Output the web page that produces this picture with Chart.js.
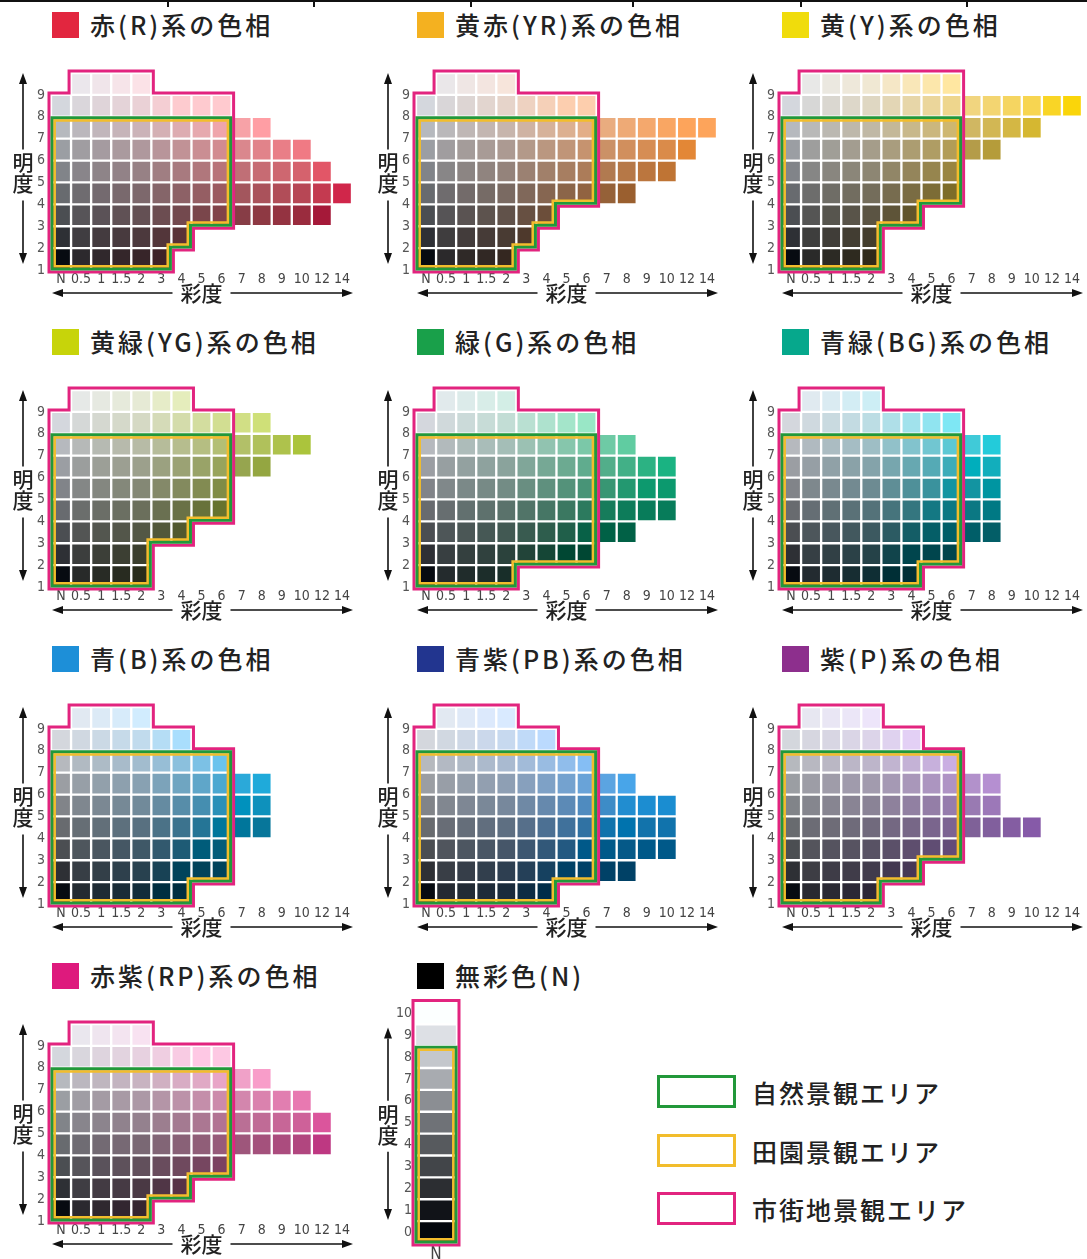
<!DOCTYPE html>
<html lang="ja">
<head>
<meta charset="utf-8">
<title>色相別 明度・彩度</title>
<script src="https://cdn.jsdelivr.net/npm/chart.js@4.4.1/dist/chart.umd.min.js"></script>
<style>
  html, body { margin: 0; padding: 0; background: #fff; }
  #page { position: relative; width: 1087px; height: 1259px; overflow: hidden; font-family: "Noto Sans CJK JP", "Noto Sans", sans-serif; color: #222; }
  .abs { position: absolute; }
  .title { position: absolute; font-size: 25px; font-weight: 500; letter-spacing: 3px; line-height: 30px; white-space: nowrap; }
  .mark { position: absolute; width: 27px; height: 26px; }
  .lg-box { position: absolute; width: 73px; height: 27px; border: 3px solid; background: #fff; }
  .lg-text { position: absolute; font-size: 25px; font-weight: 500; letter-spacing: 2px; line-height: 32px; white-space: nowrap; }
  canvas { position: absolute; }
</style>
</head>
<body>
<div id="page"></div>
<script>
// ---- data ----
const chromaLabels = ['N', '0.5', '1', '1.5', '2', '3', '4', '5', '6', '7', '8', '9', '10', '12', '14'];
const chromaSteps = [0, 0.5, 1, 1.5, 2, 3, 4, 5, 6, 7, 8, 9, 10, 12, 14];
const valueTicks = [1, 2, 3, 4, 5, 6, 7, 8, 9];
const rowBottoms = [1, 2, 3, 4, 5, 6, 7, 8, 9];      // row spans [v, v+1]
const topRowFirstCol = 1;                            // top row starts at 0.5

const hueTitles = ['赤(R)系の色相', '黄赤(YR)系の色相', '黄(Y)系の色相',
                   '黄緑(YG)系の色相', '緑(G)系の色相', '青緑(BG)系の色相',
                   '青(B)系の色相', '青紫(PB)系の色相', '紫(P)系の色相',
                   '赤紫(RP)系の色相'];

// last chroma column present in each row (index into chromaLabels), bottom row first
const lastColR  = [5, 6, 13, 14, 13, 12, 10, 8, 4];
const lastColYR = [4, 5, 6, 10, 12, 13, 14, 8, 4];
const lastColY  = [4, 4, 6, 8, 8, 10, 12, 14, 8];
const lastColYG = [4, 4, 6, 8, 8, 10, 12, 10, 6];
const lastColG  = [4, 8, 10, 12, 12, 12, 10, 8, 4];
const lastColBG = [6, 8, 10, 10, 10, 10, 10, 8, 4];
const lastColB  = [6, 8, 8, 10, 10, 10, 8, 6, 4];
const lastColPB = [6, 10, 12, 12, 12, 10, 8, 6, 4];
const lastColP  = [4, 6, 8, 12, 10, 10, 8, 6, 4];
const lastColRP = [4, 6, 8, 13, 13, 12, 10, 8, 4];
const hueLastCols = [lastColR, lastColYR, lastColY, lastColYG, lastColG,
                     lastColBG, lastColB, lastColPB, lastColP, lastColRP];

// landscape areas: chroma up to column 8 (=6); natural/rural up to value 8, urban up to 10
const areaLastCol = 8;
const naturalTopValue = 8;
const ruralTopValue = 8;
const urbanTopValue = 10;

const neutralTitle = '無彩色(N)';
const neutralValues = [0, 1, 2, 3, 4, 5, 6, 7, 8, 9, 10];
const neutralNaturalTop = 8;
const neutralUrbanTop = 10;

const valueAxisTitle = '明度';
const chromaAxisTitle = '彩度';
const legendLabels = ['自然景観エリア', '田園景観エリア', '市街地景観エリア'];

// ---- styles ----
const hueAngles = [22, 64, 92, 112, 160, 205, 240, 262, 316, 352];
const chromaGain = [5, 5.5, 7, 7, 5.5, 5, 5, 5, 4.6, 5];
const markColors = ['#e2263f', '#f4b120', '#f0dc0c', '#c7d40a', '#19a04a',
                    '#06a88c', '#1d8fd8', '#22358f', '#8d2f8d', '#de1a7d'];
const rowLightness = [17, 26, 36, 46, 56, 65, 75, 86, 92];
const neutralColLightness = [3, 20, 33, 45, 55, 65, 75, 86, 92];
const neutralLightness = [2, 6, 19, 29, 38, 48, 59, 70, 80, 89, 100];
const outlineStyles = {
  urban:   { color: '#e2247f', width: 3, inset: -2 },
  natural: { color: '#22983a', width: 3, inset: 1 },
  rural:   { color: '#f2bd2c', width: 2.5, inset: 3.7 }
};
const tickFont = { family: "'Liberation Sans Narrow', 'DejaVu Sans Condensed', sans-serif", size: 14 };
const cjk = '"Noto Sans CJK JP", sans-serif';

// ---- colour helper (CIE LCh -> sRGB) ----
function lchColor(L, C, h) {
  const conv = (c) => {
    const a = c * Math.cos(h * Math.PI / 180), b = c * Math.sin(h * Math.PI / 180) - 3;
    const fy = (L + 16) / 116, fx = fy + a / 500, fz = fy - b / 200;
    const finv = t => t > 6 / 29 ? t * t * t : 3 * (6 / 29) * (6 / 29) * (t - 4 / 29);
    const X = 0.95047 * finv(fx), Y = finv(fy), Z = 1.08883 * finv(fz);
    return [3.2406 * X - 1.5372 * Y - 0.4986 * Z,
            -0.9689 * X + 1.8758 * Y + 0.0415 * Z,
            0.0557 * X - 0.2040 * Y + 1.0570 * Z];
  };
  let c = C, rgb = conv(c);
  while (c > 0 && rgb.some(v => v < -0.002 || v > 1.002)) { c *= 0.95; rgb = conv(c); }
  const g = v => { v = Math.max(0, Math.min(1, v)); return Math.round(255 * (v <= 0.0031308 ? 12.92 * v : 1.055 * Math.pow(v, 1 / 2.4) - 0.055)); };
  return 'rgb(' + rgb.map(g).join(',') + ')';
}

// ---- outline helpers ----
function simplify(pts) {
  let out = pts.filter((p, i) => { const q = pts[(i + 1) % pts.length]; return !(p[0] === q[0] && p[1] === q[1]); });
  let changed = true;
  while (changed) {
    changed = false;
    for (let i = 0; i < out.length; i++) {
      const a = out[(i - 1 + out.length) % out.length], b = out[i], c = out[(i + 1) % out.length];
      if ((b[0] - a[0]) * (c[1] - b[1]) - (b[1] - a[1]) * (c[0] - b[0]) === 0) { out.splice(i, 1); changed = true; break; }
    }
  }
  return out;
}

function rowsToPolygon(rows) {
  const pts = [];
  rows.forEach(r => pts.push([r.xr, r.y0], [r.xr, r.y1]));
  for (let i = rows.length - 1; i >= 0; i--) pts.push([rows[i].xl, rows[i].y1], [rows[i].xl, rows[i].y0]);
  return simplify(pts);
}

function drawOutline(ctx, chart, poly, st) {
  const xs = chart.scales.x, ys = chart.scales.y;
  const P = poly.map(([x, y]) => [xs.getPixelForValue(x), ys.getPixelForValue(y)]);
  let area = 0;
  P.forEach((p, i) => { const q = P[(i + 1) % P.length]; area += p[0] * q[1] - q[0] * p[1]; });
  const s = area > 0 ? 1 : -1;
  const nrm = P.map((p, i) => {
    const q = P[(i + 1) % P.length], dx = q[0] - p[0], dy = q[1] - p[1], len = Math.hypot(dx, dy);
    return [-dy / len * s, dx / len * s];
  });
  const Q = P.map((p, i) => {
    const n1 = nrm[(i - 1 + P.length) % P.length], n2 = nrm[i];
    return [p[0] + st.inset * (n1[0] + n2[0]), p[1] + st.inset * (n1[1] + n2[1])];
  });
  ctx.beginPath();
  Q.forEach((q, i) => i ? ctx.lineTo(q[0], q[1]) : ctx.moveTo(q[0], q[1]));
  ctx.closePath();
  ctx.strokeStyle = st.color;
  ctx.lineWidth = st.width;
  ctx.lineJoin = 'miter';
  ctx.stroke();
}

function arrowLine(ctx, x1, y1, x2, y2) {
  const ang = Math.atan2(y2 - y1, x2 - x1), L = 11, W = 4;
  const bx = x2 - L * Math.cos(ang), by = y2 - L * Math.sin(ang);
  ctx.beginPath(); ctx.moveTo(x1, y1); ctx.lineTo(bx, by); ctx.stroke();
  ctx.beginPath();
  ctx.moveTo(x2, y2);
  ctx.lineTo(bx + W * Math.sin(ang), by - W * Math.cos(ang));
  ctx.lineTo(bx - W * Math.sin(ang), by + W * Math.cos(ang));
  ctx.closePath(); ctx.fill();
}

function makeDecor(outlines, d) {
  return {
    id: 'decor',
    afterDatasetsDraw(chart) {
      const ctx = chart.ctx;
      ctx.save();
      outlines.forEach(o => drawOutline(ctx, chart, o.poly, o.style));
      ctx.restore();
    },
    afterDraw(chart) {
      const ctx = chart.ctx, a = chart.chartArea;
      ctx.save();
      ctx.fillStyle = '#111'; ctx.strokeStyle = '#111'; ctx.lineWidth = 1.6;
      const vx = a.left + d.vx, mid = (a.top + a.bottom) / 2;
      arrowLine(ctx, vx, mid - 22, vx, a.top + d.vTop);
      arrowLine(ctx, vx, mid + 29, vx, a.bottom + d.vBottom);
      ctx.font = '500 21px ' + cjk; ctx.textAlign = 'center'; ctx.textBaseline = 'middle';
      ctx.fillStyle = '#222';
      ctx.fillText(valueAxisTitle[0], vx, mid - 9);
      ctx.fillText(valueAxisTitle[1], vx, mid + 12);
      if (d.hArrow) {
        const hy = a.bottom + 23, cx = (a.left + a.right) / 2;
        ctx.fillStyle = '#111';
        arrowLine(ctx, cx - 29, hy, a.left + 1, hy);
        arrowLine(ctx, cx + 29, hy, a.right + 1, hy);
        ctx.fillStyle = '#222';
        ctx.fillText(chromaAxisTitle, cx, hy);
      }
      ctx.restore();
    }
  };
}

// ---- page ----
const page = document.getElementById('page');
function el(tag, cls, style, text) {
  const e = document.createElement(tag);
  if (cls) e.className = cls;
  Object.assign(e.style, style);
  if (text) e.textContent = text;
  page.appendChild(e);
  return e;
}

// top rule
el('div', 'abs', { left: '0px', top: '0px', width: '1087px', height: '2px', background: '#111' });
[167, 313, 470, 632, 800, 966].forEach(x => el('div', 'abs', { left: x + 'px', top: '0px', width: '2px', height: '7px', background: '#111' }));

function addTitle(col, row, text, color) {
  const ox = col * 365, oy = row * 317;
  el('div', 'mark', { left: (52 + ox) + 'px', top: (12 + oy) + 'px', background: color });
  el('div', 'title', { left: (90 + ox) + 'px', top: (9 + oy) + 'px' }, text);
}

function hueChart(i) {
  const col = i % 3, row = Math.floor(i / 3);
  const lastCols = hueLastCols[i], hue = hueAngles[i], gain = chromaGain[i];
  addTitle(col, row, hueTitles[i], markColors[i]);

  const cv = el('canvas', '', { left: (col * 365) + 'px', top: (row * 317 + 40) + 'px', width: '365px', height: '265px' });
  cv.width = 365; cv.height = 265;

  const datasets = rowBottoms.map((v, r) => {
    const first = r === rowBottoms.length - 1 ? topRowFirstCol : 0;
    return {
      data: chromaLabels.map((_, c) => (c >= first && c <= lastCols[r]) ? [v, v + 1] : null),
      backgroundColor: chromaSteps.map(c => c === 0
        ? lchColor(neutralColLightness[r], 0, hue)
        : lchColor(rowLightness[r], c * gain, hue)),
      borderColor: '#fff', borderWidth: 1.5, borderSkipped: false,
      stack: 'cells', categoryPercentage: 1, barPercentage: 1
    };
  });

  const regionRows = (topValue) => rowBottoms.map((v, r) => ({
    y0: v, y1: v + 1,
    xl: (r === rowBottoms.length - 1 ? topRowFirstCol : 0) - 0.5,
    xr: Math.min(lastCols[r], areaLastCol) + 0.5
  })).filter(rw => rw.y1 <= topValue);

  const outlines = [
    { poly: rowsToPolygon(regionRows(urbanTopValue)), style: outlineStyles.urban },
    { poly: rowsToPolygon(regionRows(naturalTopValue)), style: outlineStyles.natural },
    { poly: rowsToPolygon(regionRows(ruralTopValue)), style: outlineStyles.rural }
  ];

  new Chart(cv, {
    type: 'bar',
    data: { labels: chromaLabels, datasets },
    options: {
      responsive: false, animation: false, events: [],
      layout: { padding: { top: 33, right: 13, left: 0, bottom: 0 } },
      plugins: { legend: { display: false }, tooltip: { enabled: false } },
      scales: {
        x: {
          stacked: true, offset: true,
          grid: { display: false, drawTicks: false }, border: { display: false },
          ticks: { font: tickFont, color: '#444', padding: 1, maxRotation: 0, autoSkip: false },
          afterFit: s => { s.height = 35; }
        },
        y: {
          type: 'linear', min: 1, max: 10, stacked: false,
          afterBuildTicks: s => { s.ticks = valueTicks.map(v => ({ value: v })); },
          grid: { display: false, drawTicks: false }, border: { display: false },
          ticks: { font: tickFont, color: '#555', padding: 6 },
          afterFit: s => { s.width = 51; }
        }
      }
    },
    plugins: [makeDecor(outlines, { vx: -28, vTop: 0, vBottom: -6, hArrow: true })]
  });
}

hueTitles.forEach((_, i) => hueChart(i));

// neutral column
(function neutralChart() {
  addTitle(1, 3, neutralTitle, '#000');
  const cv = el('canvas', '', { left: '365px', top: '991px', width: '110px', height: '268px' });
  cv.width = 110; cv.height = 268;
  const datasets = neutralValues.map((v, r) => ({
    data: [[v - 0.5, v + 0.5]],
    backgroundColor: lchColor(neutralLightness[r], 0, 0),
    borderColor: '#fff', borderWidth: 1.5, borderSkipped: false,
    stack: 'cells', categoryPercentage: 1, barPercentage: 1
  }));
  const region = top => neutralValues.filter(v => v <= top).map(v => ({ y0: v - 0.5, y1: v + 0.5, xl: -0.5, xr: 0.5 }));
  const outlines = [
    { poly: rowsToPolygon(region(neutralUrbanTop)), style: outlineStyles.urban },
    { poly: rowsToPolygon(region(neutralNaturalTop)), style: outlineStyles.natural },
    { poly: rowsToPolygon(region(neutralNaturalTop)), style: outlineStyles.rural }
  ];
  new Chart(cv, {
    type: 'bar',
    data: { labels: [chromaLabels[0]], datasets },
    options: {
      responsive: false, animation: false, events: [],
      layout: { padding: { top: 11, right: 18, left: 0, bottom: 0 } },
      plugins: { legend: { display: false }, tooltip: { enabled: false } },
      scales: {
        x: {
          stacked: true, offset: true,
          grid: { display: false, drawTicks: false }, border: { display: false },
          ticks: { font: { family: tickFont.family, size: 17 }, color: '#444', padding: 1 },
          afterFit: s => { s.height = 16; }
        },
        y: {
          type: 'linear', min: -0.5, max: 10.5, stacked: false,
          afterBuildTicks: s => { s.ticks = neutralValues.map(v => ({ value: v })); },
          grid: { display: false, drawTicks: false }, border: { display: false },
          ticks: { font: tickFont, color: '#555', padding: 3 },
          afterFit: s => { s.width = 50; }
        }
      }
    },
    plugins: [makeDecor(outlines, { vx: -27, vTop: 25, vBottom: -23, hArrow: false })]
  });
})();

// legend
const legendKeys = ['natural', 'rural', 'urban'];
legendLabels.forEach((t, i) => {
  const y = 1075 + i * 58.5;
  el('div', 'lg-box', { left: '657px', top: y + 'px', borderColor: outlineStyles[legendKeys[i]].color });
  el('div', 'lg-text', { left: '752px', top: (y + 1) + 'px' }, t);
});
</script>
</body>
</html>
